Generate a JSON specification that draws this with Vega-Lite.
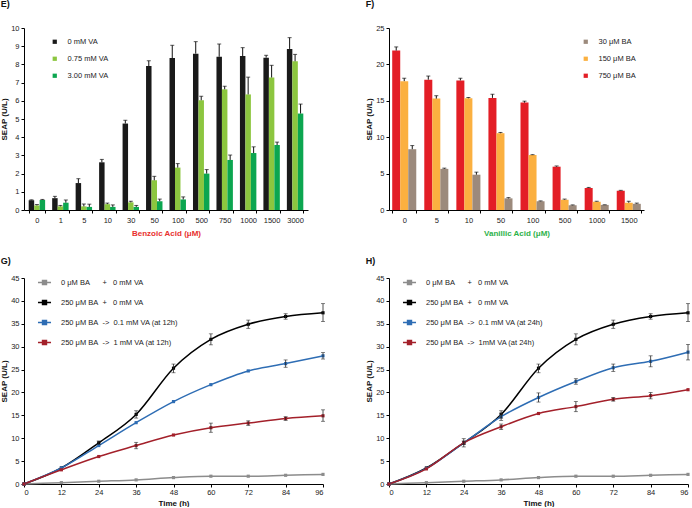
{
  "$schema": "https://vega.github.io/schema/vega-lite/v6.json",
  "padding": {"left": 0, "top": 0, "right": 0, "bottom": 0},
  "config": {
    "font": "Liberation Sans",
    "view": {"stroke": null},
    "axis": {"grid": false, "domainColor": "#000", "tickColor": "#000", "labelFontSize": 7.5, "labelColor": "#222", "titleFontSize": 8, "titleFontWeight": "bold", "titleColor": "#111", "tickSize": 3, "labelPadding": 2, "titlePadding": 2, "labelOverlap": false},
    "title": {"fontSize": 9, "fontWeight": "bold", "anchor": "start", "frame": "bounds", "color": "#111"},
    "legend": {"labelFontSize": 7.5, "labelColor": "#222", "title": null, "padding": 0}
  },
  "datasets": {
    "E": [
      {"ba": "0", "va": "0 mM VA", "seap": 0.53, "hi": 0.56},
      {"ba": "0", "va": "0.75 mM VA", "seap": 0.25, "hi": 0.30},
      {"ba": "0", "va": "3.00 mM VA", "seap": 0.55, "hi": 0.58},
      {"ba": "1", "va": "0 mM VA", "seap": 0.65, "hi": 0.75},
      {"ba": "1", "va": "0.75 mM VA", "seap": 0.20, "hi": 0.25},
      {"ba": "1", "va": "3.00 mM VA", "seap": 0.40, "hi": 0.55},
      {"ba": "5", "va": "0 mM VA", "seap": 1.48, "hi": 1.72},
      {"ba": "5", "va": "0.75 mM VA", "seap": 0.20, "hi": 0.33},
      {"ba": "5", "va": "3.00 mM VA", "seap": 0.17, "hi": 0.32},
      {"ba": "10", "va": "0 mM VA", "seap": 2.62, "hi": 2.78},
      {"ba": "10", "va": "0.75 mM VA", "seap": 0.32, "hi": 0.38},
      {"ba": "10", "va": "3.00 mM VA", "seap": 0.17, "hi": 0.28},
      {"ba": "30", "va": "0 mM VA", "seap": 4.75, "hi": 4.93},
      {"ba": "30", "va": "0.75 mM VA", "seap": 0.42, "hi": 0.48},
      {"ba": "30", "va": "3.00 mM VA", "seap": 0.17, "hi": 0.25},
      {"ba": "50", "va": "0 mM VA", "seap": 7.91, "hi": 8.20},
      {"ba": "50", "va": "0.75 mM VA", "seap": 1.63, "hi": 1.85},
      {"ba": "50", "va": "3.00 mM VA", "seap": 0.48, "hi": 0.60},
      {"ba": "100", "va": "0 mM VA", "seap": 8.35, "hi": 9.05},
      {"ba": "100", "va": "0.75 mM VA", "seap": 2.33, "hi": 2.55},
      {"ba": "100", "va": "3.00 mM VA", "seap": 0.58, "hi": 0.72},
      {"ba": "500", "va": "0 mM VA", "seap": 8.59, "hi": 9.25},
      {"ba": "500", "va": "0.75 mM VA", "seap": 6.03, "hi": 6.25},
      {"ba": "500", "va": "3.00 mM VA", "seap": 2.00, "hi": 2.22},
      {"ba": "750", "va": "0 mM VA", "seap": 8.42, "hi": 9.12},
      {"ba": "750", "va": "0.75 mM VA", "seap": 6.63, "hi": 6.80},
      {"ba": "750", "va": "3.00 mM VA", "seap": 2.75, "hi": 3.02},
      {"ba": "1000", "va": "0 mM VA", "seap": 8.46, "hi": 8.92},
      {"ba": "1000", "va": "0.75 mM VA", "seap": 6.35, "hi": 7.30},
      {"ba": "1000", "va": "3.00 mM VA", "seap": 3.13, "hi": 3.47},
      {"ba": "1500", "va": "0 mM VA", "seap": 8.37, "hi": 8.50},
      {"ba": "1500", "va": "0.75 mM VA", "seap": 7.28, "hi": 7.95},
      {"ba": "1500", "va": "3.00 mM VA", "seap": 3.57, "hi": 3.73},
      {"ba": "3000", "va": "0 mM VA", "seap": 8.85, "hi": 9.47},
      {"ba": "3000", "va": "0.75 mM VA", "seap": 8.17, "hi": 8.55},
      {"ba": "3000", "va": "3.00 mM VA", "seap": 5.30, "hi": 5.82}
    ],
    "F": [
      {"va": "0", "ba": "750 μM BA", "seap": 21.9, "hi": 22.4},
      {"va": "0", "ba": "150 μM BA", "seap": 17.7, "hi": 18.1},
      {"va": "0", "ba": "30 μM BA", "seap": 8.35, "hi": 8.85},
      {"va": "5", "ba": "750 μM BA", "seap": 17.9, "hi": 18.4},
      {"va": "5", "ba": "150 μM BA", "seap": 15.3, "hi": 15.7},
      {"va": "5", "ba": "30 μM BA", "seap": 5.65, "hi": 5.75},
      {"va": "10", "ba": "750 μM BA", "seap": 17.8, "hi": 18.1},
      {"va": "10", "ba": "150 μM BA", "seap": 15.35, "hi": 15.45},
      {"va": "10", "ba": "30 μM BA", "seap": 4.85, "hi": 5.2},
      {"va": "50", "ba": "750 μM BA", "seap": 15.4, "hi": 15.9},
      {"va": "50", "ba": "150 μM BA", "seap": 10.55, "hi": 10.65},
      {"va": "50", "ba": "30 μM BA", "seap": 1.6, "hi": 1.7},
      {"va": "100", "ba": "750 μM BA", "seap": 14.75, "hi": 14.95},
      {"va": "100", "ba": "150 μM BA", "seap": 7.55, "hi": 7.6},
      {"va": "100", "ba": "30 μM BA", "seap": 1.2, "hi": 1.25},
      {"va": "500", "ba": "750 μM BA", "seap": 5.95, "hi": 6.05},
      {"va": "500", "ba": "150 μM BA", "seap": 1.42, "hi": 1.5},
      {"va": "500", "ba": "30 μM BA", "seap": 0.65, "hi": 0.7},
      {"va": "1000", "ba": "750 μM BA", "seap": 3.02, "hi": 3.1},
      {"va": "1000", "ba": "150 μM BA", "seap": 1.15, "hi": 1.2},
      {"va": "1000", "ba": "30 μM BA", "seap": 0.7, "hi": 0.72},
      {"va": "1500", "ba": "750 μM BA", "seap": 2.65, "hi": 2.7},
      {"va": "1500", "ba": "150 μM BA", "seap": 1.0, "hi": 1.2},
      {"va": "1500", "ba": "30 μM BA", "seap": 0.85, "hi": 0.95}
    ],
    "G": [
      {"t": 0, "s": "0 μM BA + 0 mM VA", "v": 0},
      {"t": 12, "s": "0 μM BA + 0 mM VA", "v": 0.3},
      {"t": 24, "s": "0 μM BA + 0 mM VA", "v": 0.6},
      {"t": 36, "s": "0 μM BA + 0 mM VA", "v": 0.9},
      {"t": 48, "s": "0 μM BA + 0 mM VA", "v": 1.4},
      {"t": 60, "s": "0 μM BA + 0 mM VA", "v": 1.7},
      {"t": 72, "s": "0 μM BA + 0 mM VA", "v": 1.7},
      {"t": 84, "s": "0 μM BA + 0 mM VA", "v": 1.9},
      {"t": 96, "s": "0 μM BA + 0 mM VA", "v": 2.1},
      {"t": 0, "s": "250 μM BA + 0 mM VA", "v": 0},
      {"t": 12, "s": "250 μM BA + 0 mM VA", "v": 3.5},
      {"t": 24, "s": "250 μM BA + 0 mM VA", "v": 9.0, "lo": 8.6, "hi": 9.4},
      {"t": 36, "s": "250 μM BA + 0 mM VA", "v": 15.2, "lo": 14.4, "hi": 16.0},
      {"t": 48, "s": "250 μM BA + 0 mM VA", "v": 25.3, "lo": 24.3, "hi": 26.2},
      {"t": 60, "s": "250 μM BA + 0 mM VA", "v": 31.6, "lo": 30.4, "hi": 32.8},
      {"t": 72, "s": "250 μM BA + 0 mM VA", "v": 34.9, "lo": 34.0, "hi": 35.8},
      {"t": 84, "s": "250 μM BA + 0 mM VA", "v": 36.6, "lo": 36.0, "hi": 37.2},
      {"t": 96, "s": "250 μM BA + 0 mM VA", "v": 37.4, "lo": 35.5, "hi": 39.4},
      {"t": 0, "s": "250 μM BA -> 0.1 mM VA (at 12h)", "v": 0},
      {"t": 12, "s": "250 μM BA -> 0.1 mM VA (at 12h)", "v": 3.5},
      {"t": 24, "s": "250 μM BA -> 0.1 mM VA (at 12h)", "v": 8.4},
      {"t": 36, "s": "250 μM BA -> 0.1 mM VA (at 12h)", "v": 13.4},
      {"t": 48, "s": "250 μM BA -> 0.1 mM VA (at 12h)", "v": 18.0},
      {"t": 60, "s": "250 μM BA -> 0.1 mM VA (at 12h)", "v": 21.7},
      {"t": 72, "s": "250 μM BA -> 0.1 mM VA (at 12h)", "v": 24.7},
      {"t": 84, "s": "250 μM BA -> 0.1 mM VA (at 12h)", "v": 26.3, "lo": 25.5, "hi": 27.1},
      {"t": 96, "s": "250 μM BA -> 0.1 mM VA (at 12h)", "v": 28.0, "lo": 27.3, "hi": 28.7},
      {"t": 0, "s": "250 μM BA -> 1 mM VA (at 12h)", "v": 0},
      {"t": 12, "s": "250 μM BA -> 1 mM VA (at 12h)", "v": 3.1},
      {"t": 24, "s": "250 μM BA -> 1 mM VA (at 12h)", "v": 6.0},
      {"t": 36, "s": "250 μM BA -> 1 mM VA (at 12h)", "v": 8.4, "lo": 7.7, "hi": 9.1},
      {"t": 48, "s": "250 μM BA -> 1 mM VA (at 12h)", "v": 10.7},
      {"t": 60, "s": "250 μM BA -> 1 mM VA (at 12h)", "v": 12.3, "lo": 11.3, "hi": 13.3},
      {"t": 72, "s": "250 μM BA -> 1 mM VA (at 12h)", "v": 13.3, "lo": 12.8, "hi": 13.8},
      {"t": 84, "s": "250 μM BA -> 1 mM VA (at 12h)", "v": 14.3, "lo": 13.9, "hi": 14.7},
      {"t": 96, "s": "250 μM BA -> 1 mM VA (at 12h)", "v": 14.9, "lo": 13.7, "hi": 16.2}
    ],
    "H": [
      {"t": 0, "s": "0 μM BA + 0 mM VA", "v": 0},
      {"t": 12, "s": "0 μM BA + 0 mM VA", "v": 0.3},
      {"t": 24, "s": "0 μM BA + 0 mM VA", "v": 0.6},
      {"t": 36, "s": "0 μM BA + 0 mM VA", "v": 0.9},
      {"t": 48, "s": "0 μM BA + 0 mM VA", "v": 1.4},
      {"t": 60, "s": "0 μM BA + 0 mM VA", "v": 1.7},
      {"t": 72, "s": "0 μM BA + 0 mM VA", "v": 1.7},
      {"t": 84, "s": "0 μM BA + 0 mM VA", "v": 1.9},
      {"t": 96, "s": "0 μM BA + 0 mM VA", "v": 2.1},
      {"t": 0, "s": "250 μM BA + 0 mM VA", "v": 0},
      {"t": 12, "s": "250 μM BA + 0 mM VA", "v": 3.5},
      {"t": 24, "s": "250 μM BA + 0 mM VA", "v": 9.0, "lo": 8.6, "hi": 9.4},
      {"t": 36, "s": "250 μM BA + 0 mM VA", "v": 15.2, "lo": 14.4, "hi": 16.0},
      {"t": 48, "s": "250 μM BA + 0 mM VA", "v": 25.3, "lo": 24.3, "hi": 26.2},
      {"t": 60, "s": "250 μM BA + 0 mM VA", "v": 31.6, "lo": 30.4, "hi": 32.8},
      {"t": 72, "s": "250 μM BA + 0 mM VA", "v": 34.9, "lo": 34.0, "hi": 35.8},
      {"t": 84, "s": "250 μM BA + 0 mM VA", "v": 36.6, "lo": 36.0, "hi": 37.2},
      {"t": 96, "s": "250 μM BA + 0 mM VA", "v": 37.4, "lo": 35.5, "hi": 39.4},
      {"t": 0, "s": "250 μM BA -> 0.1 mM VA (at 24h)", "v": 0},
      {"t": 12, "s": "250 μM BA -> 0.1 mM VA (at 24h)", "v": 3.4},
      {"t": 24, "s": "250 μM BA -> 0.1 mM VA (at 24h)", "v": 9.0},
      {"t": 36, "s": "250 μM BA -> 0.1 mM VA (at 24h)", "v": 14.7, "lo": 13.9, "hi": 15.5},
      {"t": 48, "s": "250 μM BA -> 0.1 mM VA (at 24h)", "v": 18.9, "lo": 17.9, "hi": 19.9},
      {"t": 60, "s": "250 μM BA -> 0.1 mM VA (at 24h)", "v": 22.4, "lo": 21.8, "hi": 23.0},
      {"t": 72, "s": "250 μM BA -> 0.1 mM VA (at 24h)", "v": 25.4, "lo": 24.6, "hi": 26.2},
      {"t": 84, "s": "250 μM BA -> 0.1 mM VA (at 24h)", "v": 26.8, "lo": 25.6, "hi": 28.0},
      {"t": 96, "s": "250 μM BA -> 0.1 mM VA (at 24h)", "v": 28.8, "lo": 27.1, "hi": 30.5},
      {"t": 0, "s": "250 μM BA -> 1mM VA (at 24h)", "v": 0},
      {"t": 12, "s": "250 μM BA -> 1mM VA (at 24h)", "v": 3.3},
      {"t": 24, "s": "250 μM BA -> 1mM VA (at 24h)", "v": 9.0, "lo": 8.1, "hi": 9.9},
      {"t": 36, "s": "250 μM BA -> 1mM VA (at 24h)", "v": 12.5, "lo": 11.9, "hi": 13.1},
      {"t": 48, "s": "250 μM BA -> 1mM VA (at 24h)", "v": 15.4},
      {"t": 60, "s": "250 μM BA -> 1mM VA (at 24h)", "v": 16.9, "lo": 15.8, "hi": 18.0},
      {"t": 72, "s": "250 μM BA -> 1mM VA (at 24h)", "v": 18.5, "lo": 18.1, "hi": 18.9},
      {"t": 84, "s": "250 μM BA -> 1mM VA (at 24h)", "v": 19.3, "lo": 18.6, "hi": 20.0},
      {"t": 96, "s": "250 μM BA -> 1mM VA (at 24h)", "v": 20.6}
    ]
  },
  "resolve": {"scale": {"color": "independent", "xOffset": "independent"}},
  "spacing": 19,
  "vconcat": [
    {
      "spacing": 57,
      "resolve": {"scale": {"color": "independent", "xOffset": "independent"}},
      "hconcat": [
        {
          "title": {"text": "E)", "offset": 15},
          "width": 284, "height": 182,
          "data": {"name": "E"},
          "encoding": {
            "x": {"field": "ba", "type": "ordinal", "sort": ["0","1","5","10","30","50","100","500","750","1000","1500","3000"], "scale": {"paddingInner": 0.3, "paddingOuter": 0.2}, "axis": {"title": "Benzoic Acid (μM)", "titleColor": "#e8302e", "labelAngle": 0, "tickBand": "extent", "labelPadding": 3, "titlePadding": 6}},
            "xOffset": {"field": "va", "sort": ["0 mM VA","0.75 mM VA","3.00 mM VA"]},
            "y": {"field": "seap", "type": "quantitative", "scale": {"domain": [0, 10]}, "axis": {"title": "SEAP (U/L)", "values": [0,1,2,3,4,5,6,7,8,9,10]}}
          },
          "layer": [
            {"mark": {"type": "bar"}, "encoding": {
              "color": {"field": "va", "type": "nominal", "scale": {"domain": ["0 mM VA","0.75 mM VA","3.00 mM VA"], "range": ["#1a1a1a","#8cc63f","#0ca650"]},
                "legend": {"orient": "none", "legendX": 27, "legendY": 10, "symbolType": "square", "symbolSize": 18, "rowPadding": 8, "labelOffset": 9,
                  "labelExpr": "datum.label == '0 mM VA' ? '\u00a0\u00a0\u00a0\u00a0\u00a00 mM VA' : datum.label"}}
            }},
            {"mark": {"type": "rule", "color": "#111", "strokeWidth": 1}, "encoding": {"y2": {"field": "hi"}}},
            {"mark": {"type": "tick", "orient": "horizontal", "size": 4, "thickness": 1, "color": "#111"}, "encoding": {"y": {"field": "hi", "type": "quantitative"}}}
          ]
        },
        {
          "title": {"text": "F)", "offset": 15},
          "width": 255, "height": 182,
          "data": {"name": "F"},
          "encoding": {
            "x": {"field": "va", "type": "ordinal", "sort": ["0","5","10","50","100","500","1000","1500"], "scale": {"paddingInner": 0.25, "paddingOuter": 0.1}, "axis": {"title": "Vanillic Acid (μM)", "titleColor": "#2db24a", "labelAngle": 0, "tickBand": "extent", "labelPadding": 3, "titlePadding": 6}},
            "xOffset": {"field": "ba", "sort": ["750 μM BA","150 μM BA","30 μM BA"]},
            "y": {"field": "seap", "type": "quantitative", "scale": {"domain": [0, 25]}, "axis": {"title": "SEAP (U/L)", "values": [0,5,10,15,20,25]}}
          },
          "layer": [
            {"mark": {"type": "bar"}, "encoding": {
              "color": {"field": "ba", "type": "nominal", "scale": {"domain": ["30 μM BA","150 μM BA","750 μM BA"], "range": ["#9c8a7c","#fbb040","#e31e26"]},
                "legend": {"orient": "none", "legendX": 193, "legendY": 10, "symbolType": "square", "symbolSize": 18, "rowPadding": 8, "labelOffset": 9,
                  "labelExpr": "datum.label == '30 μM BA' ? '\u00a0\u00a030 μM BA' : datum.label"}}
            }},
            {"mark": {"type": "rule", "color": "#111", "strokeWidth": 1}, "encoding": {"y2": {"field": "hi"}}},
            {"mark": {"type": "tick", "orient": "horizontal", "size": 4, "thickness": 1, "color": "#111"}, "encoding": {"y": {"field": "hi", "type": "quantitative"}}}
          ]
        }
      ]
    },
    {
      "spacing": 39,
      "resolve": {"scale": {"color": "independent"}},
      "hconcat": [
        {
          "title": {"text": "G)", "offset": 8},
          "width": 299, "height": 206,
          "data": {"name": "G"},
          "encoding": {
            "x": {"field": "t", "type": "quantitative", "scale": {"domain": [0, 96]}, "axis": {"title": "Time (h)", "values": [0,12,24,36,48,60,72,84,96], "labelPadding": 1.5, "titlePadding": 3}},
            "y": {"field": "v", "type": "quantitative", "scale": {"domain": [0, 45]}, "axis": {"title": "SEAP (U/L)", "values": [0,5,10,15,20,25,30,35,40,45]}}
          },
          "layer": [
            {"mark": {"type": "line", "interpolate": "monotone", "strokeWidth": 1.5}, "encoding": {
              "color": {"field": "s", "type": "nominal", "scale": {"domain": ["0 μM BA + 0 mM VA","250 μM BA + 0 mM VA","250 μM BA -> 0.1 mM VA (at 12h)","250 μM BA -> 1 mM VA (at 12h)"], "range": ["#8c8c8c","#000000","#2e6db4","#a3202a"]},
                "legend": {"orient": "none", "legendX": 13, "legendY": -3, "symbolType": "M-1,0H1M-0.3,-0.3H0.3V0.3H-0.3Z", "symbolSize": 170, "symbolStrokeWidth": 1.5, "rowPadding": 7, "labelOffset": 9,
                  "labelExpr": "datum.label == '0 μM BA + 0 mM VA' ? '0 μM BA\u00a0\u00a0\u00a0\u00a0\u00a0\u00a0+\u00a0\u00a0\u00a00 mM VA' : replace(replace(datum.label, ' + ', '\u00a0\u00a0+\u00a0\u00a0\u00a0'), ' -> ', '\u00a0\u00a0->\u00a0\u00a0')"}}
            }},
            {"mark": {"type": "point", "shape": "square", "filled": true, "size": 10, "opacity": 1}, "encoding": {"color": {"field": "s", "type": "nominal"}}},
            {"mark": {"type": "rule", "color": "#222", "strokeWidth": 0.8}, "encoding": {"y": {"field": "lo", "type": "quantitative"}, "y2": {"field": "hi"}}},
            {"mark": {"type": "tick", "orient": "horizontal", "size": 4, "thickness": 0.8, "color": "#222"}, "encoding": {"y": {"field": "lo", "type": "quantitative"}}},
            {"mark": {"type": "tick", "orient": "horizontal", "size": 4, "thickness": 0.8, "color": "#222"}, "encoding": {"y": {"field": "hi", "type": "quantitative"}}}
          ]
        },
        {
          "title": {"text": "H)", "offset": 8},
          "width": 299, "height": 206,
          "data": {"name": "H"},
          "encoding": {
            "x": {"field": "t", "type": "quantitative", "scale": {"domain": [0, 96]}, "axis": {"title": "Time (h)", "values": [0,12,24,36,48,60,72,84,96], "labelPadding": 1.5, "titlePadding": 3}},
            "y": {"field": "v", "type": "quantitative", "scale": {"domain": [0, 45]}, "axis": {"title": "SEAP (U/L)", "values": [0,5,10,15,20,25,30,35,40,45]}}
          },
          "layer": [
            {"mark": {"type": "line", "interpolate": "monotone", "strokeWidth": 1.5}, "encoding": {
              "color": {"field": "s", "type": "nominal", "scale": {"domain": ["0 μM BA + 0 mM VA","250 μM BA + 0 mM VA","250 μM BA -> 0.1 mM VA (at 24h)","250 μM BA -> 1mM VA (at 24h)"], "range": ["#8c8c8c","#000000","#2e6db4","#a3202a"]},
                "legend": {"orient": "none", "legendX": 13, "legendY": -3, "symbolType": "M-1,0H1M-0.3,-0.3H0.3V0.3H-0.3Z", "symbolSize": 170, "symbolStrokeWidth": 1.5, "rowPadding": 7, "labelOffset": 9,
                  "labelExpr": "datum.label == '0 μM BA + 0 mM VA' ? '0 μM BA\u00a0\u00a0\u00a0\u00a0\u00a0\u00a0+\u00a0\u00a0\u00a00 mM VA' : replace(replace(datum.label, ' + ', '\u00a0\u00a0+\u00a0\u00a0\u00a0'), ' -> ', '\u00a0\u00a0->\u00a0\u00a0')"}}
            }},
            {"mark": {"type": "point", "shape": "square", "filled": true, "size": 10, "opacity": 1}, "encoding": {"color": {"field": "s", "type": "nominal"}}},
            {"mark": {"type": "rule", "color": "#222", "strokeWidth": 0.8}, "encoding": {"y": {"field": "lo", "type": "quantitative"}, "y2": {"field": "hi"}}},
            {"mark": {"type": "tick", "orient": "horizontal", "size": 4, "thickness": 0.8, "color": "#222"}, "encoding": {"y": {"field": "lo", "type": "quantitative"}}},
            {"mark": {"type": "tick", "orient": "horizontal", "size": 4, "thickness": 0.8, "color": "#222"}, "encoding": {"y": {"field": "hi", "type": "quantitative"}}}
          ]
        }
      ]
    }
  ]
}
